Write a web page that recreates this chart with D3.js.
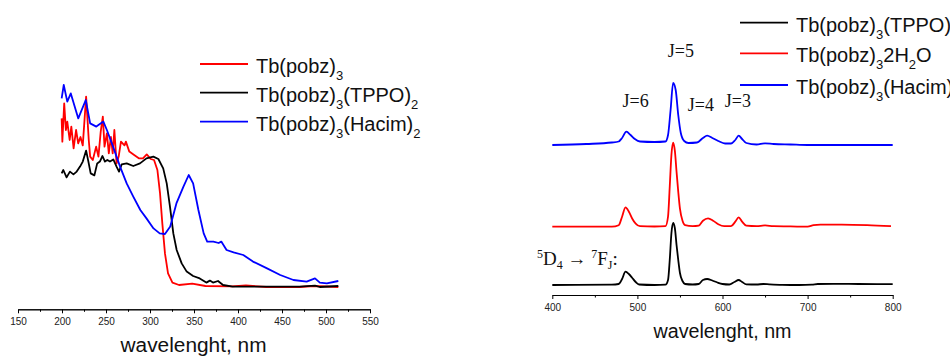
<!DOCTYPE html>
<html>
<head>
<meta charset="utf-8">
<script src="https://cdn.jsdelivr.net/npm/d3@7"></script>
<style>
  body { margin: 0; background: #fff; }
  svg { display: block; }
  .axis text { font-family: "Liberation Sans", Arial, sans-serif; font-size: 10px; fill: #222; }
  .axis path, .axis line { stroke: #000; }
</style>
</head>
<body>
<svg id="chart" width="950" height="356"></svg>
<script>
// ---- absorption spectra (left panel), [wavelength nm, intensity a.u.] ----
const absRed = [[199.6,84.3],[200.4,72.7],[202.5,91.8],[204.4,78.5],[206,82.7],[208.7,73.5],[210.6,80.2],
  [213.2,69.3],[216,78.5],[218.4,71.8],[221,75],[223.6,70.8],[227.4,95.2],[230.4,73.5],[232,65.2],[235,63.5],
  [238.8,70.2],[241.4,65.2],[244,77.7],[246.4,85.2],[248.3,70.2],[251,76.8],[253.2,66.8],[255.6,75],[257.6,66.8],
  [259.5,78.5],[262,61.8],[264.4,65.2],[267,72.7],[271,70.8],[272.6,72.7],[276.5,67.7],[282,66],[287.7,64.3],
  [292,64.3],[296.3,66.3],[300.8,64],[304.6,63.5],[308.4,58.5],[311.4,46.8],[314,31.8],[317,16.8],[320.5,6.8],
  [325.5,2.2],[333,1],[348,1.7],[363,0.5],[393,0.3],[409,0.8],[432,0],[470,0],[486,0.5],[514,0]];
const absBlack = [[199.6,56.8],[201.5,58.5],[205.2,54.8],[209,57.7],[213,56.3],[216.7,57.7],[220.5,60.2],
  [223.6,62.7],[227.4,68.2],[230,62.7],[232.6,56.8],[236.8,55.8],[240,61.8],[243,62.7],[246,65.5],[248.8,62.7],
  [251.5,63.5],[254.5,62.7],[258.3,63.8],[262,60.2],[264.8,57.7],[267.8,61.3],[273.5,61.8],[281,60.5],
  [288.6,61.8],[296,64.3],[303.8,65.2],[309.5,64],[315,59.3],[319,51.8],[322.7,40.2],[326.5,26.8],[330.3,18.5],
  [336,11.8],[341.7,7.7],[349,5.5],[356.5,4.3],[364,2.2],[368,3.2],[371.6,2.2],[377.3,3],[383,1],[394,0.2],
  [432,0.2],[470,0.2],[487.5,0.7],[493,0],[514,0.5]];
const absBlue = [[199.6,94.3],[202,101],[206,92.7],[210,96.8],[218.5,84.3],[227,93.5],[232,81.8],[239,80.2],
  [247,82.7],[251,78.5],[258,70.2],[266,60.2],[273.5,51.8],[281,45.2],[289,38.5],[296,34.3],[304,29.3],
  [311,26.8],[317,26.5],[323,30.2],[330,41.8],[338,50.2],[344,56],[349,51.8],[355,38.5],[361,26.8],[365,22.7],
  [372,22.7],[378,22],[381,22.7],[387,18.5],[395,17.3],[406,16],[417,12.7],[433,9.3],[448,6],[463,3.5],
  [478,2.7],[487.5,4.3],[493,2.2],[501,1.8],[514,3]];

// ---- emission spectra (right panel), [wavelength nm, intensity a.u. above own baseline] ----
const emBlack = [[400,0],[470,0.3],[478,1],[482,6],[486,13.3],[490,11],[494,7],[498,3],[502,0.5],[520,0],
  [533,0.3],[536,5],[538,25],[540,52],[542,62],[544,57],[546,40],[548,25],[550,12],[553,4],[556,1],[565,0.5],
  [572,1],[577,5],[582,6],[588,4.5],[594,2.5],[600,1],[608,0.5],[614,3],[619,5],[623,3],[628,0.7],[640,0.5],
  [648,1],[655,0.7],[670,0.2],[690,0],[705,0.3],[712,1],[730,1.2],[760,1],[800,0.8]];
const emRed = [[400,0],[470,0],[478,1.5],[482,10],[486,19.3],[490,15],[494,8],[498,3],[503,0.5],[520,0.2],
  [533,0.5],[536,10],[538,40],[540,72],[542,84],[544,76],[546,55],[548,35],[550,18],[553,6],[556,1.5],
  [565,0.5],[572,1],[577,6],[583,8.3],[589,6],[595,2.5],[602,0.5],[610,0.5],[615,5],[619,9.3],[623,5],
  [628,1],[640,0.5],[650,1.3],[660,0.5],[680,0.3],[700,0],[707,1.5],[715,2],[740,2],[770,1.5],[798,0.5]];
const emBlue = [[400,0],[440,1],[470,2.5],[478,3.5],[482,7],[487,13.3],[492,10],[497,6],[503,3.5],[520,3],
  [533,3.5],[536,10],[539,35],[542,62],[545,55],[548,30],[551,12],[555,4],[560,2],[570,2.5],[577,7],
  [582,9.3],[588,7],[595,4],[603,1.5],[610,1.5],[615,5],[619,9.3],[623,6],[628,2],[640,0.5],[650,1.7],
  [660,1],[680,0.5],[700,0],[800,0]];
const emOffsets = { black: 0, red: 58.3, blue: 140 };

const leftTicks = [150, 200, 250, 300, 350, 400, 450, 500, 550];
const rightTicks = [400, 500, 600, 700, 800];
// label, wavelength of label centre, height (a.u. on the right-panel scale)
const jLabels = [['J=6', 498, 178], ['J=5', 551, 228], ['J=4', 574.5, 174], ['J=3', 618, 178]];

const svg = d3.select('#chart');
const sans = '"Liberation Sans", Arial, sans-serif';
const serif = '"Liberation Serif", "Times New Roman", serif';

// ---------------- left panel ----------------
const xL = d3.scaleLinear().domain([150, 550]).range([18, 370]);
const yL = d3.scaleLinear().domain([0, 100]).range([287, 87]);
const lineL = d3.line().x(d => xL(d[0])).y(d => yL(d[1])).curve(d3.curveLinear);

[[absRed, 'red'], [absBlack, 'black'], [absBlue, 'blue']].forEach(([data, color]) => {
  svg.append('path').datum(data).attr('d', lineL)
    .attr('fill', 'none').attr('stroke', color).attr('stroke-width', 1.8)
    .attr('stroke-linejoin', 'round');
});

function drawAxis(x, y0, major, minorStep) {
  const minor = d3.range(x.domain()[0], x.domain()[1] + 0.1, minorStep).filter(v => !major.includes(v));
  svg.append('g').attr('class', 'axis').attr('transform', `translate(0,${y0})`)
    .call(d3.axisBottom(x).tickValues(minor).tickSize(2.5).tickSizeOuter(0).tickFormat(''));
  svg.append('g').attr('class', 'axis').attr('transform', `translate(0,${y0})`)
    .call(d3.axisBottom(x).tickValues(major).tickSize(4).tickSizeOuter(0).tickPadding(5));
}
drawAxis(xL, 309.3, leftTicks, 25);

svg.append('text').attr('x', 193.5).attr('y', 351.5).attr('text-anchor', 'middle')
  .attr('font-family', sans).attr('font-size', 20).attr('fill', '#111')
  .attr('textLength', 146).attr('lengthAdjust', 'spacingAndGlyphs')
  .text('wavelenght, nm');

// legend helper: parts are [text, isSubscript]
function legendEntry(x, y, color, parts) {
  svg.append('line').attr('x1', x).attr('x2', x + 48).attr('y1', y).attr('y2', y)
    .attr('stroke', color).attr('stroke-width', 1.8);
  const t = svg.append('text').attr('x', x + 56).attr('y', y + 9)
    .attr('font-family', sans).attr('font-size', 20).attr('fill', '#111');
  let shift = 0;
  parts.forEach(([s, sub]) => {
    const target = sub ? 7 : 0;
    t.append('tspan').attr('font-size', sub ? 13 : 20).attr('dy', target - shift).text(s);
    shift = target;
  });
}
legendEntry(200, 64, 'red', [['Tb(pobz)', 0], ['3', 1]]);
legendEntry(200, 92.7, 'black', [['Tb(pobz)', 0], ['3', 1], ['(TPPO)', 0], ['2', 1]]);
legendEntry(200, 121.7, 'blue', [['Tb(pobz)', 0], ['3', 1], ['(Hacim)', 0], ['2', 1]]);

// ---------------- right panel ----------------
const xR = d3.scaleLinear().domain([400, 800]).range([552.3, 892.7]);
const yR = d3.scaleLinear().domain([0, 210]).range([285, 75]);
drawAxis(xR, 295, rightTicks, 50);

[[emBlack, 'black'], [emRed, 'red'], [emBlue, 'blue']].forEach(([data, color]) => {
  const off = emOffsets[color];
  const line = d3.line().x(d => xR(d[0])).y(d => yR(d[1] + off)).curve(d3.curveMonotoneX);
  svg.append('path').datum(data).attr('d', line)
    .attr('fill', 'none').attr('stroke', color).attr('stroke-width', 1.8);
});

svg.append('text').attr('x', 722.5).attr('y', 337.5).attr('text-anchor', 'middle')
  .attr('font-family', sans).attr('font-size', 20).attr('fill', '#111')
  .attr('textLength', 138).attr('lengthAdjust', 'spacingAndGlyphs')
  .text('wavelenght, nm');

legendEntry(740, 22.7, 'black', [['Tb(pobz)', 0], ['3', 1], ['(TPPO)', 0], ['2', 1]]);
legendEntry(740, 53.3, 'red', [['Tb(pobz)', 0], ['3', 1], ['2H', 0], ['2', 1], ['O', 0]]);
legendEntry(740, 85, 'blue', [['Tb(pobz)', 0], ['3', 1], ['(Hacim)', 0], ['2', 1]]);

// J labels
jLabels.forEach(([s, wl, h]) => {
  svg.append('text').attr('x', xR(wl)).attr('y', yR(h)).attr('text-anchor', 'middle')
    .attr('font-family', serif).attr('font-size', 18).attr('fill', '#111').text(s);
});

// transition label 5D4 -> 7FJ:
const tr = svg.append('text').attr('x', 537).attr('y', 265)
  .attr('font-family', serif).attr('font-size', 19).attr('fill', '#111');
tr.append('tspan').attr('font-size', 12).attr('dy', -7).text('5');
tr.append('tspan').attr('dy', 7).text('D');
tr.append('tspan').attr('font-size', 12).attr('dy', 4).text('4');
tr.append('tspan').attr('dy', -4).text(' \u2192 ');
tr.append('tspan').attr('font-size', 12).attr('dy', -7).text('7');
tr.append('tspan').attr('dy', 7).text('F');
tr.append('tspan').attr('font-size', 12).attr('dy', 4).text('J');
tr.append('tspan').attr('dy', -4).text(':');
</script>
</body>
</html>
